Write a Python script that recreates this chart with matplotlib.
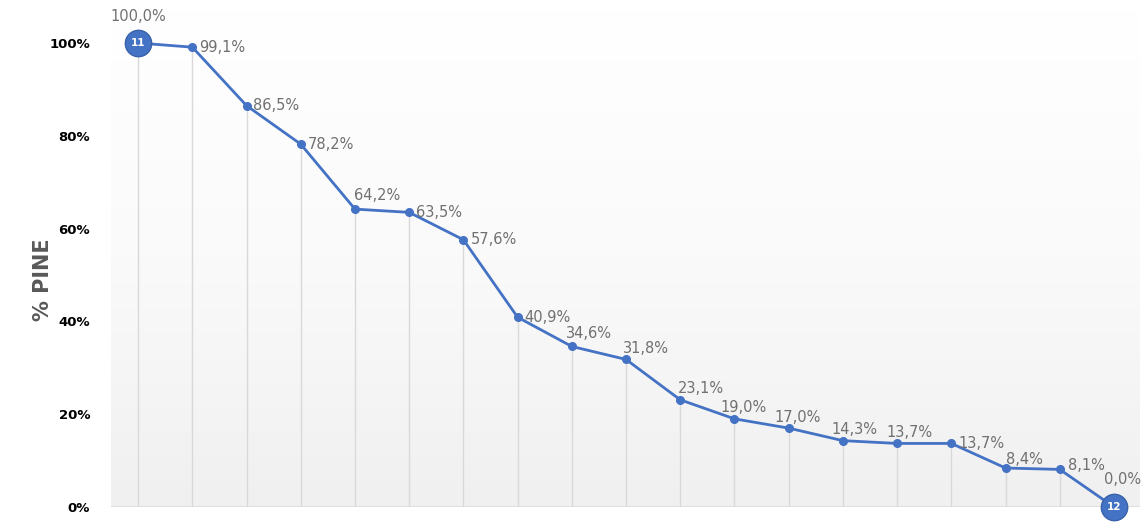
import numpy as np
import matplotlib.pyplot as plt

values = [100.0, 99.1, 86.5, 78.2, 64.2, 63.5, 57.6, 40.9, 34.6, 31.8,
          23.1, 19.0, 17.0, 14.3, 13.7, 13.7, 8.4, 8.1, 0.0]
y_ticks = [0, 20, 40, 60, 80, 100]
end_labels = ["11", "12"]

blue = "#4472c4"
fig = plt.figure(figsize=(11.45, 5.22), dpi=100)
ax = fig.add_axes([111 / 1145, 15 / 522, 1029 / 1145, 497 / 522])

x = np.arange(len(values))
ymax = 100 * 497 / 464
ax.set_xlim(-0.5, len(values) - 1 + 0.48)
ax.set_ylim(0, ymax)

# gradient background, white at top to light gray at bottom
grad = np.linspace(0.0, 1.0, 256).reshape(-1, 1)
ax.imshow(grad, extent=[-0.5, len(values) - 0.52, 0, ymax], aspect="auto",
          cmap=plt.matplotlib.colors.LinearSegmentedColormap.from_list(
              "g", ["#ffffff", "#fafafa", "#f0f0f0"]),
          vmin=0, vmax=1, zorder=0, origin="upper")

ax.vlines(x, 0, values, color="#d9d9d9", lw=1, zorder=1)
ax.axhline(0, color="#dcdcdc", lw=1.2, zorder=1)
ax.plot(x, values, color=blue, lw=2, marker="o", ms=5.5, zorder=3)

# big numbered circles at the ends
for i, lab in zip([0, len(values) - 1], end_labels):
    ax.plot(x[i], values[i], "o", ms=19, color=blue, mec="#3a62a8", zorder=4,
            clip_on=False)
    ax.text(x[i], values[i], lab, color="white", fontsize=7.5, fontweight="bold",
            ha="center", va="center", zorder=5)

offsets = {0: (0, 19, "center"), 18: (6, 20, "center"), 4: (-1, 10, "left"),
           8: (-4, 9, "left"), 16: (0, 6, "left"), 11: (-10, 8, "left"),
           12: (-10, 8, "left"), 13: (-8, 8, "left"), 14: (-8, 8, "left"),
           10: (-2, 8, "left"), 9: (-2, 8, "left"), 17: (6, 3, "left")}
for i, v in enumerate(values):
    dx, dy, ha = offsets.get(i, (5, 0, "left"))
    ax.annotate(f"{v:.1f}%".replace(".", ","), (x[i], v), xytext=(dx, dy),
                textcoords="offset points", ha=ha, va="center",
                fontsize=10.5, color="#707070", zorder=6, annotation_clip=False)

ax.set_yticks(y_ticks)
ax.set_yticklabels([f"{t}%" for t in y_ticks], fontsize=9.5, fontweight="bold")
ax.tick_params(axis="y", length=0, pad=15)
ax.set_xticks([])
for s in ax.spines.values():
    s.set_visible(False)
fig.text(43 / 1145, 1 - 280 / 522, "% PINE", rotation=90, fontsize=15,
         fontweight="bold", color="#595959", ha="center", va="center")

fig.savefig("out.png", dpi=100, facecolor="white")
